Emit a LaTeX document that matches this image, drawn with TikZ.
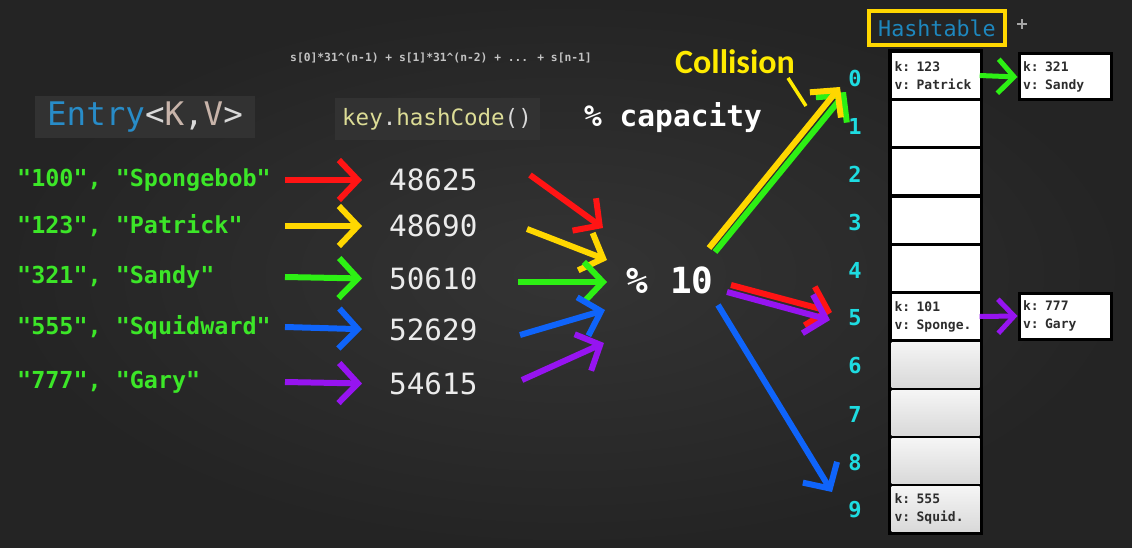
\documentclass[tikz,border=0pt]{standalone}
\usepackage{fontspec}
\newfontfamily\monof{DejaVu Sans Mono}
\newfontfamily\collfont{Carlito}
\usetikzlibrary{arrows.meta}
\definecolor{bgin}{RGB}{52,52,52}
\definecolor{bgout}{RGB}{36,36,36}
\definecolor{boxbg}{RGB}{50,50,50}
\definecolor{cred}{RGB}{255,20,20}
\definecolor{cyel}{RGB}{255,215,0}
\definecolor{cgrn}{RGB}{45,240,20}
\definecolor{cblu}{RGB}{15,100,250}
\definecolor{cpur}{RGB}{150,20,240}
\definecolor{ccyan}{RGB}{30,220,225}
\definecolor{egreen}{RGB}{60,230,40}
\definecolor{eblue}{RGB}{40,140,200}
\definecolor{ckv}{RGB}{200,180,170}
\definecolor{chash}{RGB}{220,220,150}
\definecolor{cform}{RGB}{195,195,195}
\definecolor{htblue}{RGB}{30,135,190}
\definecolor{celltxt}{RGB}{45,45,45}
\definecolor{cyellab}{RGB}{255,235,0}
\tikzset{
  arr/.style={line width=6pt, -{Straight Barb[length=19pt,width=40pt]}},
  sarr/.style={line width=5pt, -{Straight Barb[length=16pt,width=34pt]}},
  entry/.style={anchor=west, inner sep=0pt, font=\monof\bfseries\fontsize{23.4}{26}\selectfont, text=egreen},
  hashnum/.style={anchor=west, inner sep=0pt, font=\monof\fontsize{29.3}{32}\selectfont, text=white!92!black},
  idx/.style={inner sep=0pt, font=\monof\bfseries\fontsize{22}{24}\selectfont, text=ccyan},
  cell/.style={fill=white, draw=none, minimum width=86pt, minimum height=45pt, inner xsep=3pt, inner ysep=0pt, text width=82pt, align=left, font=\monof\bfseries\fontsize{13}{18}\selectfont, text=celltxt},
  lcell/.style={cell, top color=white!96!black, bottom color=white!85!black},
  chain/.style={cell, draw=black, line width=3pt, minimum width=92pt, minimum height=46pt, text width=84pt},
}
\begin{document}
\begin{tikzpicture}[x=1pt,y=-1pt]
\useasboundingbox (0,0) rectangle (1132,548);
\shade[inner color=bgin, outer color=bgout] (0,0) rectangle (1132,548);

% formula
\node[inner sep=0pt, font=\monof\bfseries\fontsize{11.3}{13}\selectfont, text=cform] (formula) at (441,58) {s[0]*31\textasciicircum(n-1) + s[1]*31\textasciicircum(n-2) + ... + s[n-1]};

% headers
\node[fill=boxbg, minimum width=220pt, minimum height=42pt, inner sep=0pt, font=\monof\fontsize{32.5}{34}\selectfont] (entryh) at (145,117)
  {\textcolor{eblue}{Entry}\textcolor{white!85!black}{<}\textcolor{ckv}{K}\textcolor{white!85!black}{,}\textcolor{ckv}{V}\textcolor{white!85!black}{>}};
\node[fill=boxbg, minimum width=205pt, minimum height=42pt, inner sep=0pt, font=\monof\fontsize{22.5}{24}\selectfont] (hashh) at (437,119)
  {\textcolor{chash}{key}\textcolor{white!85!black}{.}\textcolor{chash}{hashCode}\textcolor{white!85!black}{()}};
\node[inner sep=0pt, font=\monof\bfseries\fontsize{29.5}{32}\selectfont, text=white] (caph) at (673,118) {\% capacity};

% entries
\node[entry] (e1) at (17,180) {"100", "Spongebob"};
\node[entry] (e2) at (17,226) {"123", "Patrick"};
\node[entry] (e3) at (17,277) {"321", "Sandy"};
\node[entry] (e4) at (17,327) {"555", "Squidward"};
\node[entry] (e5) at (17,382) {"777", "Gary"};

% hash numbers
\node[hashnum] (h1) at (389,180) {48625};
\node[hashnum] (h2) at (389,226) {48690};
\node[hashnum] (h3) at (389,279) {50610};
\node[hashnum] (h4) at (389,330) {52629};
\node[hashnum] (h5) at (389,384) {54615};

\coordinate (ax) at (285,0);
\draw[arr, cred, shorten >=27pt] (e1.east -| ax) -- (h1.west);
\draw[arr, cyel, shorten >=27pt] (e2.east -| ax) -- (h2.west);
\draw[arr, cgrn, shorten >=27pt] (e3.east -| ax) -- (h3.west);
\draw[arr, cblu, shorten >=27pt] (e4.east -| ax) -- (h4.west);
\draw[arr, cpur, shorten >=27pt] (e5.east -| ax) -- (h5.west);

% % 10
\node[inner sep=0pt, font=\monof\bfseries\fontsize{36}{38}\selectfont, text=white] (mod) at (670,280) {\% 10};

\coordinate (r1) at (530,175); \coordinate (r2) at (603,228);
\coordinate (y1) at (527,229); \coordinate (y2) at (607,260);
\coordinate (g1) at (518,282); \coordinate (g2) at (607,282);
\coordinate (b1) at (520,335); \coordinate (b2) at (605,310);
\coordinate (p1) at (522,380); \coordinate (p2) at (604,343);
\draw[arr, cred] (r1) -- (r2);
\draw[arr, cyel] (y1) -- (y2);
\draw[arr, cgrn] (g1) -- (g2);
\draw[arr, cblu] (b1) -- (b2);
\draw[arr, cpur] (p1) -- (p2);

% hashtable label
\node[draw=cyel, line width=4pt, minimum width=136pt, minimum height=34pt, inner sep=0pt, font=\monof\fontsize{21.7}{23}\selectfont, text=htblue] (htl) at (937,28) {Hashtable};
\draw[white!65!black, line width=1.6pt] (1017,24) -- (1027,24) (1022,19) -- (1022,29);

% table
\fill[black] (888,49) rectangle (983,535);
\node[cell] (c0) at (935.5,75.5) {k: 123\\v: Patrick};
\node[cell] (c1) at (935.5,123.7) {};
\node[cell] (c2) at (935.5,171.9) {};
\node[cell] (c3) at (935.5,220.1) {};
\node[cell] (c4) at (935.5,268.3) {};
\node[cell] (c5) at (935.5,316.5) {k: 101\\v: Sponge.};
\node[lcell] (c6) at (935.5,364.7) {};
\node[lcell] (c7) at (935.5,412.9) {};
\node[lcell] (c8) at (935.5,461.1) {};
\node[lcell] (c9) at (935.5,509.3) {k: 555\\v: Squid.};

\foreach \i in {0,...,9} {
  \node[idx] (i\i) at (855,78+48*\i) {\i};
}

% chains
\node[chain] (sandy) at (1065,77) {k: 321\\v: Sandy};
\node[chain] (gary) at (1065,316) {k: 777\\v: Gary};
\draw[sarr, cgrn] (c0.east) -- (sandy.west);
\draw[sarr, cpur] (c5.east) -- (gary.west);

% big arrows
\coordinate (gy1) at (715,252); \coordinate (gy2) at (846,92);
\coordinate (yy1) at (709,248); \coordinate (yy2) at (840,87);
\draw[arr, cgrn] (gy1) -- (gy2);
\draw[arr, cyel] (yy1) -- (yy2);
\coordinate (rr1) at (731,285); \coordinate (rr2) at (832,312);
\coordinate (pp1) at (727,292); \coordinate (pp2) at (830,320);
\draw[arr, cred] (rr1) -- (rr2);
\draw[arr, cpur] (pp1) -- (pp2);
\coordinate (bb1) at (718,305); \coordinate (bb2) at (832,492);
\draw[arr, cblu] (bb1) -- (bb2);

% collision
\node[inner sep=0pt, font=\collfont\bfseries\fontsize{34}{36}\selectfont, text=cyellab] (coll) at (735,62) {Collision};
\coordinate (cl1) at (788,78); \coordinate (cl2) at (806,106);
\draw[cyellab, line width=3.5pt] (cl1) -- (cl2);
\end{tikzpicture}
\end{document}
